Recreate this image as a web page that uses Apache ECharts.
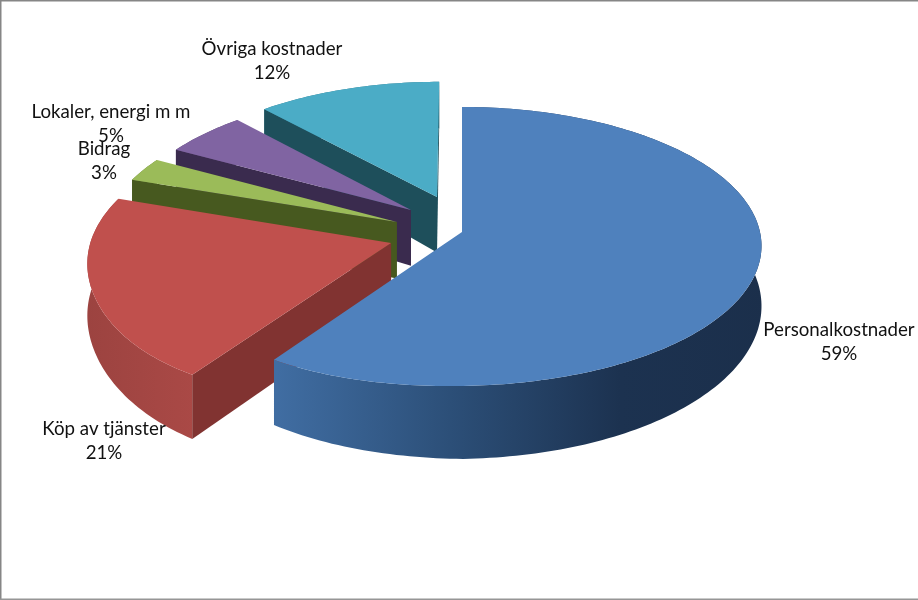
<!DOCTYPE html>
<html><head><meta charset="utf-8">
<style>html,body{margin:0;padding:0;background:#fff}#c{width:918px;height:600px}</style>
<script src="https://cdn.jsdelivr.net/npm/echarts@6/dist/echarts.min.js"></script>
</head><body><div id="c"></div>
<script>
const categories = ['Personalkostnader', 'Köp av tjänster', 'Bidrag', 'Lokaler, energi m m', 'Övriga kostnader'];
const shares = [59.49, 20.81, 2.8, 5.3, 11.6];

// Layout and style, kept apart from the data
const topColors = ['#4f81bd', '#c0504d', '#9bbb59', '#8064a2', '#4bacc6'];
const radialColors = ['#2a4a70', '#813331', '#47591f', '#3a2b4e', '#1e4f5b'];
const wallStops = [
  [[277, '#406da2'], [450, '#2c4f78'], [620, '#1c3250'], [770, '#1b2f4b']],
  [[87, '#9c4340'], [195, '#aa4946']],
  [[120, '#6d8340'], [170, '#6d8340']],
  [[170, '#5a4672'], [240, '#5a4672']],
  [[260, '#35798b'], [440, '#35798b']]
];
const explode = [[0, 0], [-0.236, 0.08], [-0.22, -0.073], [-0.174, -0.163], [-0.086, -0.261]];
const radiusScale = [1, 1, 0.985, 0.97, 0.965];
const bulge = [0.028, 0.04, 0, 0, 0];
const labelAt = [[839, 342], [104, 441], [104, 161], [111, 124], [272, 61]];
const CX = 462, CY = 232, RX = 298, RY = 137.5, K = 0.1, H = 59;
const BULGE_AT = 215 * Math.PI / 180, BULGE_W = 30 * Math.PI / 180;

const total = shares.reduce((a, b) => a + b, 0);
const starts = [];
shares.reduce((acc, v, i) => { starts[i] = acc; return acc + v / total * 2 * Math.PI; }, 0);

function project(u, v) {
  const s = 1 / (1 - K * v);
  const lean = u < 0 ? 1 + 0.13 * u : 1;
  return { x: CX + RX * u * s, y: CY + RY * v * s, d: H * s * s * lean };
}
function poly(points, fill) {
  return { type: 'polygon', shape: { points: points }, style: { fill: fill } };
}
function sliceItem(params, api) {
  const i = api.value(0), a0 = starts[i], a1 = a0 + api.value(1) / total * 2 * Math.PI;
  const o = explode[i];
  const apex = project(o[0], o[1]);
  const n = Math.max(4, Math.ceil((a1 - a0) / 0.02));
  const rim = [];
  for (let k = 0; k <= n; k++) {
    const a = a0 + (a1 - a0) * k / n;
    const g = (a - BULGE_AT) / BULGE_W;
    const r = radiusScale[i] * (1 + bulge[i] * Math.exp(-g * g));
    rim.push(project(o[0] + r * Math.sin(a), o[1] - r * Math.cos(a)));
  }
  const kids = [];
  const wall = (p, q, c) => poly([[p.x, p.y], [q.x, q.y], [q.x, q.y + q.d], [p.x, p.y + p.d]], c);
  // outer wall as one shape with a horizontal gradient
  const stops = wallStops[i], x0 = stops[0][0], x1 = stops[stops.length - 1][0];
  const grad = new echarts.graphic.LinearGradient(x0, 0, x1, 0,
    stops.map(s => ({ offset: (s[0] - x0) / (x1 - x0), color: s[1] })), true);
  const outer = rim.map(p => [p.x, p.y]).concat(rim.slice().reverse().map(p => [p.x, p.y + p.d]));
  kids.push(poly(outer, grad));
  // radial walls only where they face the viewer
  if (rim[0].x < apex.x) kids.push(wall(apex, rim[0], radialColors[i]));
  if (rim[n].x > apex.x) kids.push(wall(apex, rim[n], radialColors[i]));
  kids.push(poly([[apex.x, apex.y]].concat(rim.map(p => [p.x, p.y])), topColors[i]));
  return { type: 'group', children: kids };
}
function labelItem(params, api) {
  const i = api.value(0);
  return { type: 'text', x: labelAt[i][0], y: labelAt[i][1],
    style: { text: categories[i] + '\n' + Math.round(api.value(1) / total * 100) + '%',
      fill: '#111', font: '18.7px Lato', align: 'center', verticalAlign: 'middle', lineHeight: 24 } };
}
const order = [4, 3, 2, 1, 0];
const chart = echarts.init(document.getElementById('c'), null, { renderer: 'canvas' });
chart.setOption({
  animation: false,
  backgroundColor: '#fff',
  graphic: [
    { type: 'line', shape: { x1: 0, y1: 0.5, x2: 918, y2: 0.5 }, style: { stroke: '#868686', lineWidth: 2 }, silent: true },
    { type: 'line', shape: { x1: 0.5, y1: 0, x2: 0.5, y2: 600 }, style: { stroke: '#868686', lineWidth: 2 }, silent: true },
    { type: 'line', shape: { x1: 0, y1: 599.5, x2: 918, y2: 599.5 }, style: { stroke: '#969696', lineWidth: 2 }, silent: true }
  ],
  series: [
    { type: 'custom', coordinateSystem: 'none', silent: true, renderItem: sliceItem,
      data: order.map(i => [i, shares[i]]) },
    { type: 'custom', coordinateSystem: 'none', silent: true, renderItem: labelItem, z: 5,
      data: order.map(i => [i, shares[i]]) }
  ]
});
</script></body></html>
